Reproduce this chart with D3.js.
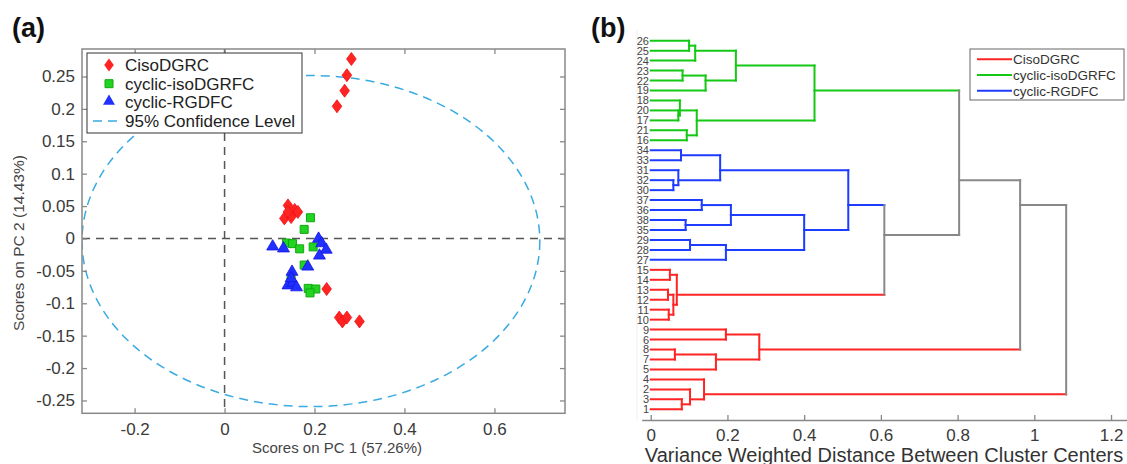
<!DOCTYPE html>
<html>
<head>
<meta charset="utf-8">
<script src="https://cdn.jsdelivr.net/npm/d3@7"></script>
<style>
  body { margin: 0; background: #fff; }
  svg { font-family: "Liberation Sans", Arial, sans-serif; }
</style>
</head>
<body>
<svg id="chart" width="1127" height="464"></svg>
<script>
// ---- panel (a) data: PCA scores ----
var cisoX = [0.282, 0.272, 0.267, 0.250, 0.141, 0.156, 0.163, 0.133, 0.148, 0.141, 0.227, 0.255, 0.262, 0.272, 0.300];
var cisoY = [0.277, 0.252, 0.228, 0.204, 0.051, 0.044, 0.041, 0.031, 0.033, 0.041, -0.078, -0.122, -0.128, -0.122, -0.128];
var isoX = [0.191, 0.177, 0.138, 0.151, 0.167, 0.197, 0.177, 0.186, 0.203, 0.190, 0.148];
var isoY = [0.032, 0.014, -0.007, -0.008, -0.016, -0.013, -0.041, -0.077, -0.078, -0.084, -0.063];
var rgdX = [0.107, 0.131, 0.209, 0.216, 0.226, 0.211, 0.185, 0.150, 0.141, 0.152, 0.160, 0.148];
var rgdY = [-0.014, -0.017, -0.002, -0.009, -0.019, -0.028, -0.045, -0.053, -0.074, -0.070, -0.077, -0.063];
// 95% confidence ellipse: center and semi-axes
var ellipseC = [0.192, -0.004];
var ellipseR = [0.509, 0.2555];
var pcaXTicks = [-0.2, 0, 0.2, 0.4, 0.6];
var pcaYTicks = [-0.25, -0.2, -0.15, -0.1, -0.05, 0, 0.05, 0.1, 0.15, 0.2, 0.25];
var seriesNames = ["CisoDGRC", "cyclic-isoDGRFC", "cyclic-RGDFC"];

// ---- panel (b) data: dendrogram ----
var leafOrder = [26, 25, 24, 23, 22, 19, 18, 20, 17, 21, 16, 34, 33, 31, 32, 30, 37, 36, 38, 35, 29, 28, 27,
                 15, 14, 13, 12, 11, 10, 9, 6, 8, 7, 5, 4, 2, 3, 1];
var cisoLeaves = d3.range(1, 16);
var isoLeaves = d3.range(16, 27);
var rgdLeaves = d3.range(27, 39);
// [id, child A, child B, distance]
var merges = [
  ["g1", 26, 25, 0.100], ["g2", "g1", 24, 0.116], ["g3", 23, 22, 0.083], ["g4", "g3", 19, 0.143],
  ["g5", "g2", "g4", 0.222], ["g6", 20, 17, 0.072], ["g7", 18, "g6", 0.076], ["g8", 21, 16, 0.094],
  ["g9", "g7", "g8", 0.120], ["g10", "g5", "g9", 0.427],
  ["b1", 34, 33, 0.079], ["b2", 32, 30, 0.059], ["b3", 31, "b2", 0.072], ["b4", "b1", "b3", 0.181],
  ["b5", 37, 36, 0.133], ["b6", 38, 35, 0.091], ["b7", "b5", "b6", 0.209], ["b8", 29, 28, 0.1025],
  ["b9", "b8", 27, 0.196], ["b10", "b7", "b9", 0.400], ["b11", "b4", "b10", 0.515],
  ["r1", 15, 14, 0.050], ["r2", 13, 12, 0.045], ["r3", 11, 10, 0.047], ["r4", "r2", "r3", 0.059],
  ["r5", "r1", "r4", 0.068], ["r6", 9, 6, 0.196], ["r7", 8, 7, 0.063], ["r8", "r7", 5, 0.170],
  ["r9", "r6", "r8", 0.283], ["r10", 3, 1, 0.081], ["r11", 2, "r10", 0.1025], ["r12", 4, "r11", 0.139],
  ["x1", "b11", "r5", 0.609], ["x2", "g10", "x1", 0.804], ["x3", "x2", "r9", 0.963], ["x4", "x3", "r12", 1.083]
];
var distTicks = [0, 0.2, 0.4, 0.6, 0.8, 1, 1.2];

var COLORS = ["#ff2424", "#14c814", "#1e3cff"];
var GRAY = "#888";
var TXT = "#3a3a3a";
var fmt = function (d) { return String(Math.round(d * 100) / 100); };

var svg = d3.select("#chart");

// =================== panel (a) ===================
var x = d3.scaleLinear().domain([-0.317, 0.757]).range([82, 565]);
var y = d3.scaleLinear().domain([-0.2698, 0.2924]).range([413.3, 49]);

var a = svg.append("g");
a.append("clipPath").attr("id", "clipA").append("rect")
  .attr("x", 82).attr("y", 49).attr("width", 565 - 82).attr("height", 413.3 - 49);

// crosshair
a.append("line").attr("x1", x(0)).attr("x2", x(0)).attr("y1", y.range()[1]).attr("y2", y.range()[0])
  .attr("stroke", "#555").attr("stroke-width", 1.5).attr("stroke-dasharray", "8,6");
a.append("line").attr("x1", x.range()[0]).attr("x2", x.range()[1]).attr("y1", y(0)).attr("y2", y(0))
  .attr("stroke", "#555").attr("stroke-width", 1.5).attr("stroke-dasharray", "8,6");

// ellipse
a.append("ellipse").attr("clip-path", "url(#clipA)")
  .attr("cx", x(ellipseC[0])).attr("cy", y(ellipseC[1]))
  .attr("rx", x(ellipseC[0] + ellipseR[0]) - x(ellipseC[0]))
  .attr("ry", y(ellipseC[1]) - y(ellipseC[1] + ellipseR[1]))
  .attr("fill", "none").attr("stroke", "#3aaae2").attr("stroke-width", 1.5).attr("stroke-dasharray", "9,6");

var diamond = { draw: function (ctx, size) { var h = Math.sqrt(size) * 0.75, w = h * 0.74;
  ctx.moveTo(0, -h); ctx.lineTo(w, 0); ctx.lineTo(0, h); ctx.lineTo(-w, 0); ctx.closePath(); } };

function pts(xs, ys) { return xs.map(function (v, i) { return [v, ys[i]]; }); }

a.selectAll(".ciso").data(pts(cisoX, cisoY)).enter().append("path")
  .attr("d", d3.symbol().type(diamond).size(75))
  .attr("transform", function (d) { return "translate(" + x(d[0]) + "," + y(d[1]) + ")"; })
  .attr("fill", COLORS[0]).attr("stroke", "#f01010").attr("stroke-width", 0.8);
a.selectAll(".iso").data(pts(isoX, isoY)).enter().append("path")
  .attr("d", d3.symbol().type(d3.symbolSquare).size(64))
  .attr("transform", function (d) { return "translate(" + x(d[0]) + "," + y(d[1]) + ")"; })
  .attr("fill", "#22d422").attr("stroke", "#10a810").attr("stroke-width", 1);
a.selectAll(".rgd").data(pts(rgdX, rgdY)).enter().append("path")
  .attr("d", d3.symbol().type(d3.symbolTriangle).size(62))
  .attr("transform", function (d) { return "translate(" + x(d[0]) + "," + (y(d[1]) - 1) + ")"; })
  .attr("fill", "#1f30ff").attr("stroke", "#1515e0").attr("stroke-width", 0.8);

// axes (ticks inward, box)
function styleAxis(g) {
  g.select(".domain").remove();
  g.selectAll(".tick line").attr("stroke", GRAY).attr("stroke-width", 1.3);
  g.selectAll(".tick text").attr("fill", TXT).style("font-size", "17px");
}
a.append("g").attr("transform", "translate(0," + y.range()[0] + ")")
  .call(d3.axisBottom(x).tickValues(pcaXTicks).tickFormat(fmt).tickSize(-5).tickPadding(10)).call(styleAxis);
a.append("g").attr("transform", "translate(0," + y.range()[1] + ")")
  .call(d3.axisTop(x).tickValues(pcaXTicks).tickFormat("").tickSize(-5)).call(styleAxis);
a.append("g").attr("transform", "translate(" + x.range()[0] + ",0)")
  .call(d3.axisLeft(y).tickValues(pcaYTicks).tickFormat(fmt).tickSize(-5).tickPadding(7)).call(styleAxis);
a.append("g").attr("transform", "translate(" + x.range()[1] + ",0)")
  .call(d3.axisRight(y).tickValues(pcaYTicks).tickFormat("").tickSize(-5)).call(styleAxis);
a.append("rect").attr("x", 82).attr("y", 49).attr("width", 565 - 82).attr("height", 413.3 - 49)
  .attr("fill", "none").attr("stroke", GRAY).attr("stroke-width", 1.5);

a.append("text").attr("x", 337).attr("y", 453).attr("text-anchor", "middle")
  .attr("fill", "#444").style("font-size", "15px").text("Scores on PC 1 (57.26%)");
a.append("text").attr("transform", "translate(24,243) rotate(-90)").attr("text-anchor", "middle")
  .attr("fill", "#444").style("font-size", "15.5px").text("Scores on PC 2 (14.43%)");

// legend (a)
var lg = a.append("g");
lg.append("rect").attr("x", 87).attr("y", 53).attr("width", 215).attr("height", 80)
  .attr("fill", "#fff").attr("stroke", "#333").attr("stroke-width", 1);
var legA = seriesNames.concat(["95% Confidence Level"]);
legA.forEach(function (name, i) {
  var cy = 65 + i * 18.7;
  if (i === 0) lg.append("path").attr("d", d3.symbol().type(diamond).size(75)).attr("transform", "translate(109," + cy + ")").attr("fill", COLORS[0]);
  if (i === 1) lg.append("path").attr("d", d3.symbol().type(d3.symbolSquare).size(64)).attr("transform", "translate(109," + cy + ")").attr("fill", "#22d422").attr("stroke", "#10a810");
  if (i === 2) lg.append("path").attr("d", d3.symbol().type(d3.symbolTriangle).size(62)).attr("transform", "translate(109," + (cy - 1) + ")").attr("fill", "#1f30ff");
  if (i === 3) lg.append("line").attr("x1", 93).attr("x2", 121).attr("y1", cy).attr("y2", cy)
    .attr("stroke", "#3aaae2").attr("stroke-width", 1.5).attr("stroke-dasharray", "9,6");
  lg.append("text").attr("x", 125).attr("y", cy + 6).attr("fill", "#222").style("font-size", "17px").text(name);
});

svg.append("text").attr("x", 12).attr("y", 37).style("font-size", "27px").style("font-weight", "bold")
  .attr("fill", "#111").text("(a)");

// =================== panel (b) ===================
var xd = d3.scaleLinear().domain([-0.0235, 1.2416]).range([641.7, 1127]);
var yd = d3.scalePoint().domain(leafOrder).range([40.7, 409.3]);

function groupOf(leaf) {
  if (cisoLeaves.indexOf(leaf) >= 0) return 0;
  if (isoLeaves.indexOf(leaf) >= 0) return 1;
  return 2;
}
var nodes = {};
leafOrder.forEach(function (l) { nodes[l] = { h: 0, leaves: [l], color: COLORS[groupOf(l)] }; });
merges.forEach(function (m) {
  var A = nodes[m[1]], B = nodes[m[2]];
  var leaves = A.leaves.concat(B.leaves);
  var groups = d3.union(leaves.map(groupOf));
  nodes[m[0]] = { h: m[3], leaves: leaves, a: A, b: B,
    color: groups.size === 1 ? COLORS[leaves.map(groupOf)[0]] : GRAY };
});
function ypos(n) { return d3.mean(n.leaves, function (l) { return yd(l); }); }

var b = svg.append("g").attr("fill", "none").attr("stroke-width", 2).attr("stroke-linecap", "square");
b.append("line").attr("x1", 637).attr("x2", 637).attr("y1", 30).attr("y2", 420)
  .attr("stroke", "#eee").attr("stroke-width", 1);
merges.forEach(function (m) {
  var n = nodes[m[0]];
  [n.a, n.b].forEach(function (c) {
    b.append("line").attr("x1", xd(c.h)).attr("x2", xd(n.h)).attr("y1", ypos(c)).attr("y2", ypos(c))
      .attr("stroke", c.color);
  });
});
merges.forEach(function (m) {
  var n = nodes[m[0]];
  b.append("line").attr("x1", xd(n.h)).attr("x2", xd(n.h)).attr("y1", ypos(n.a)).attr("y2", ypos(n.b))
    .attr("stroke", n.color);
});

svg.append("g").selectAll("text").data(leafOrder).enter().append("text")
  .attr("x", 649).attr("y", function (d) { return yd(d); }).attr("dy", "0.36em")
  .attr("text-anchor", "end").attr("fill", "#444").style("font-size", "11px")
  .text(function (d) { return d; });

var ax = svg.append("g").attr("transform", "translate(0,420)")
  .call(d3.axisBottom(xd).tickValues(distTicks).tickFormat(fmt).tickSize(-5).tickSizeOuter(0).tickPadding(9));
ax.select(".domain").attr("stroke", GRAY).attr("stroke-width", 1.5);
ax.selectAll(".tick line").attr("stroke", GRAY).attr("stroke-width", 1.3);
ax.selectAll(".tick text").attr("fill", TXT).style("font-size", "17px");

svg.append("text").attr("x", 884).attr("y", 461.5).attr("text-anchor", "middle")
  .attr("fill", "#333").style("font-size", "20px").text("Variance Weighted Distance Between Cluster Centers");

// legend (b)
var lgb = svg.append("g");
lgb.append("rect").attr("x", 970).attr("y", 49).attr("width", 154).attr("height", 51)
  .attr("fill", "#fff").attr("stroke", "#666").attr("stroke-width", 1);
seriesNames.forEach(function (name, i) {
  var cy = 59.3 + i * 15.7;
  lgb.append("line").attr("x1", 977).attr("x2", 1012).attr("y1", cy).attr("y2", cy)
    .attr("stroke", COLORS[i]).attr("stroke-width", 2);
  lgb.append("text").attr("x", 1013).attr("y", cy + 5).attr("fill", "#333").style("font-size", "13.5px").text(name);
});

svg.append("text").attr("x", 591).attr("y", 37).style("font-size", "27px").style("font-weight", "bold")
  .attr("fill", "#111").text("(b)");
</script>
</body>
</html>
